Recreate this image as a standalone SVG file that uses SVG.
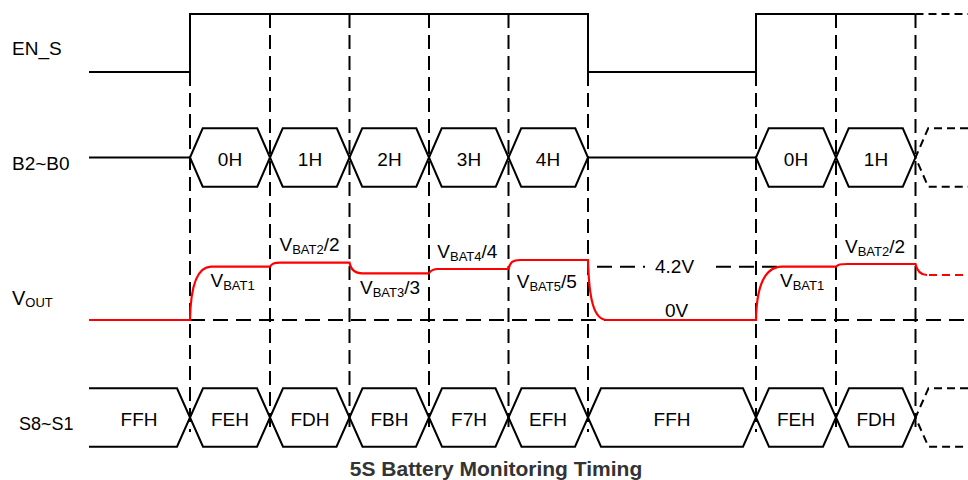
<svg xmlns="http://www.w3.org/2000/svg" width="968" height="480" viewBox="0 0 968 480">
<style>
.sig{fill:none;stroke:#000;stroke-width:2;stroke-linejoin:miter}
.dsig{fill:none;stroke:#000;stroke-width:2;stroke-dasharray:8,5}
.grid{fill:none;stroke:#000;stroke-width:2;stroke-dasharray:14,7}
.hd{fill:none;stroke:#000;stroke-width:2;stroke-dasharray:15,8}
.red{fill:none;stroke:#ff0000;stroke-width:2.2}
.redd{fill:none;stroke:#ff0000;stroke-width:2.2;stroke-dasharray:8,5}
text{font-family:"Liberation Sans",Arial,sans-serif;fill:#000}
.lbl{font-size:19px}
.val{font-size:19px;text-anchor:middle}
.sub{font-size:13px}
.title{font-size:21px;font-weight:bold;fill:#333;text-anchor:middle}
</style>
<rect width="968" height="480" fill="#fff"/>

<g id="connectors">
  <g id="grid-lines">
    <line class="grid" x1="190" y1="72" x2="190" y2="432"/>
    <line class="grid" x1="270" y1="14" x2="270" y2="432"/>
    <line class="grid" x1="349.5" y1="14" x2="349.5" y2="432"/>
    <line class="grid" x1="429" y1="14" x2="429" y2="432"/>
    <line class="grid" x1="508.5" y1="14" x2="508.5" y2="432"/>
    <line class="grid" x1="588" y1="72" x2="588" y2="432"/>
    <line class="grid" x1="756" y1="72" x2="756" y2="432"/>
    <line class="grid" x1="836" y1="14" x2="836" y2="432"/>
    <line class="grid" x1="915.5" y1="14" x2="915.5" y2="432"/>
  </g>
  <g id="ref-levels">
    <line class="hd" x1="190" y1="320" x2="968" y2="320"/>
    <line class="hd" x1="597" y1="266.7" x2="645" y2="266.7"/>
    <line class="hd" x1="716" y1="266.7" x2="778" y2="266.7"/>
  </g>
</g>

<g id="en_s">
  <text class="lbl" x="12" y="55">EN_S</text>
  <path class="sig" d="M89,72 H190 V14 H588 V72 H756 V14 H915.5"/>
  <line class="dsig" x1="915.5" y1="14" x2="968" y2="14"/>
</g>

<g id="b2_b0">
  <text class="lbl" x="12" y="169.5">B2~B0</text>
  <line class="sig" x1="89" y1="157.5" x2="190" y2="157.5"/>
  <path class="sig" d="M190,157.5 L202.7,128.3 H257.3 L270,157.5 L257.3,186.7 H202.7 Z"/>
  <path class="sig" d="M270,157.5 L282.7,128.3 H336.8 L349.5,157.5 L336.8,186.7 H282.7 Z"/>
  <path class="sig" d="M349.5,157.5 L362.2,128.3 H416.3 L429,157.5 L416.3,186.7 H362.2 Z"/>
  <path class="sig" d="M429,157.5 L441.7,128.3 H495.8 L508.5,157.5 L495.8,186.7 H441.7 Z"/>
  <path class="sig" d="M508.5,157.5 L521.2,128.3 H575.3 L588,157.5 L575.3,186.7 H521.2 Z"/>
  <line class="sig" x1="588" y1="157.5" x2="756" y2="157.5"/>
  <path class="sig" d="M756,157.5 L768.7,128.3 H823.3 L836,157.5 L823.3,186.7 H768.7 Z"/>
  <path class="sig" d="M836,157.5 L848.7,128.3 H902.8 L915.5,157.5 L902.8,186.7 H848.7 Z"/>
  <path class="dsig" d="M968,128.3 H928.2 L915.5,157.5 L928.2,186.7 H968"/>
  <text class="val" x="230" y="166">0H</text>
  <text class="val" x="310" y="166">1H</text>
  <text class="val" x="389.5" y="166">2H</text>
  <text class="val" x="469" y="166">3H</text>
  <text class="val" x="548" y="166">4H</text>
  <text class="val" x="796" y="166">0H</text>
  <text class="val" x="876" y="166">1H</text>
</g>

<g id="vout">
  <text x="12" y="305" style="font-size:20px">V<tspan class="sub" dy="2">OUT</tspan></text>
  <path class="red" d="M89,320 H190 C190.5,290 196,267 211,266.7 L270,266.7 C272,263.5 274,262.7 280,262.7 L349.5,262.7 C351,270 355,273.3 362,273.3 L429,273.3 C431,270 433,269 438,269 L508.5,269 C510,262 513,260 520,260 L588,260 C589,300 594,320 607,320 L756,320 C756.5,288 764,267 782,266.7 L836,266.7 C838,264.5 840,264 848,264 L915.5,264 C917,271 920,275 927,275"/>
  <line class="redd" x1="929" y1="275" x2="968" y2="275"/>
  <text class="lbl" x="210.5" y="287">V<tspan class="sub" dy="3">BAT1</tspan></text>
  <text class="lbl" x="279.5" y="250.7">V<tspan class="sub" dy="3">BAT2</tspan><tspan dy="-3">/2</tspan></text>
  <text class="lbl" x="360" y="294">V<tspan class="sub" dy="3">BAT3</tspan><tspan dy="-3">/3</tspan></text>
  <text class="lbl" x="437.3" y="258.3">V<tspan class="sub" dy="3">BAT4</tspan><tspan dy="-3">/4</tspan></text>
  <text class="lbl" x="516.7" y="288.3">V<tspan class="sub" dy="3">BAT5</tspan><tspan dy="-3">/5</tspan></text>
  <text class="lbl" x="655" y="272.7">4.2V</text>
  <text class="lbl" x="665" y="316.7">0V</text>
  <text class="lbl" x="780" y="286.7">V<tspan class="sub" dy="3">BAT1</tspan></text>
  <text class="lbl" x="845" y="253.3">V<tspan class="sub" dy="3">BAT2</tspan><tspan dy="-3">/2</tspan></text>
</g>

<g id="s8_s1">
  <text class="lbl" x="19" y="430" style="font-size:18px">S8~S1</text>
  <path class="sig" d="M89,388.3 H177 L190,417.5 L177,446.7 H89"/>
  <path class="sig" d="M190,417.5 L203,388.3 H257 L270,417.5 L257,446.7 H203 Z"/>
  <path class="sig" d="M270,417.5 L283,388.3 H336.5 L349.5,417.5 L336.5,446.7 H283 Z"/>
  <path class="sig" d="M349.5,417.5 L362.5,388.3 H416 L429,417.5 L416,446.7 H362.5 Z"/>
  <path class="sig" d="M429,417.5 L442,388.3 H495.5 L508.5,417.5 L495.5,446.7 H442 Z"/>
  <path class="sig" d="M508.5,417.5 L521.5,388.3 H575 L588,417.5 L575,446.7 H521.5 Z"/>
  <path class="sig" d="M588,417.5 L601,388.3 H743 L756,417.5 L743,446.7 H601 Z"/>
  <path class="sig" d="M756,417.5 L769,388.3 H823 L836,417.5 L823,446.7 H769 Z"/>
  <path class="sig" d="M836,417.5 L849,388.3 H902.5 L915.5,417.5 L902.5,446.7 H849 Z"/>
  <path class="dsig" d="M968,388.3 H928.5 L915.5,417.5 L928.5,446.7 H968"/>
  <text class="val" x="139" y="426">FFH</text>
  <text class="val" x="230" y="426">FEH</text>
  <text class="val" x="310" y="426">FDH</text>
  <text class="val" x="389.5" y="426">FBH</text>
  <text class="val" x="469" y="426">F7H</text>
  <text class="val" x="548" y="426">EFH</text>
  <text class="val" x="672" y="426">FFH</text>
  <text class="val" x="796" y="426">FEH</text>
  <text class="val" x="876" y="426">FDH</text>
</g>

<text class="title" x="496" y="476">5S Battery Monitoring Timing</text>
</svg>
